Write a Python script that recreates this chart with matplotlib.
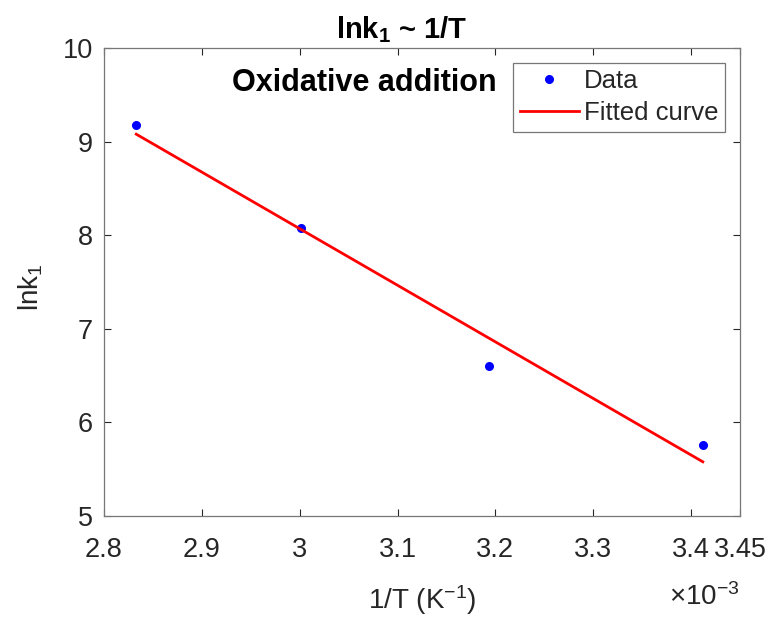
import matplotlib.pyplot as plt
import numpy as np

plt.rcParams['font.family'] = ['Liberation Sans', 'DejaVu Sans']
plt.rcParams['mathtext.fontset'] = 'custom'
plt.rcParams['mathtext.rm'] = 'Liberation Sans'
plt.rcParams['mathtext.bf'] = 'Liberation Sans:bold'
plt.rcParams['mathtext.default'] = 'regular'

# 1/T in units of 1e-3 K^-1, ln k1
inv_T = [2.833, 3.001, 3.194, 3.412]
lnk1 = [9.18, 8.08, 6.60, 5.76]
xticks = [2.8, 2.9, 3.0, 3.1, 3.2, 3.3, 3.4, 3.45]
xticklabels = ['2.8', '2.9', '3', '3.1', '3.2', '3.3', '3.4', '3.45']
yticks = [5, 6, 7, 8, 9, 10]

p = np.polyfit(inv_T, lnk1, 1)
xfit = np.linspace(inv_T[0], inv_T[-1], 50)
yfit = np.polyval(p, xfit)

txt = '#262626'
fig = plt.figure(figsize=(7.73, 6.18), dpi=100)
ax = fig.add_axes([0.1345, 0.165, 0.8228, 0.7573])

ax.plot(inv_T, lnk1, '.', color='blue', markersize=11, label='Data')
ax.plot(xfit, yfit, '-', color='red', lw=2, label='Fitted curve')

ax.set_xlim(2.8, 3.45)
ax.set_ylim(5, 10)
ax.set_xticks(xticks)
ax.set_xticklabels(xticklabels)
ax.set_yticks(yticks)
ax.tick_params(direction='in', top=True, right=True, labelsize=19.5,
               colors=txt, length=5, width=0.8)
ax.tick_params(axis='x', pad=15)
ax.tick_params(axis='y', pad=8)
for s in ax.spines.values():
    s.set_color('#777777')
    s.set_linewidth(0.9)

ax.set_xlabel('1/T (K$^{-1}$)', fontsize=20, color=txt, labelpad=15)
ax.set_ylabel('lnk$_1$', fontsize=20, color=txt)
ax.yaxis.set_label_coords(-0.092, 0.49)
fig.text(0.52, 0.9385, r'lnk$_\mathbf{1}$ ~ 1/T', fontsize=21,
         fontweight='bold', ha='center', va='baseline')
ax.text(3.0657, 9.626, 'Oxidative addition', fontsize=22, fontweight='bold',
        ha='center', va='center')
fig.text(740 / 773, 1 - 597 / 618, r'$\times$10$^{-3}$', fontsize=20,
         color=txt, ha='right', va='center')

leg = ax.legend(loc='upper right', bbox_to_anchor=(0.9764, 0.968),
                borderaxespad=0, fontsize=18.5, fancybox=False,
                edgecolor='#777777', framealpha=1, handlelength=2.3,
                handletextpad=0.2, borderpad=0.25, labelspacing=0.3)
leg.get_frame().set_linewidth(0.9)
for t in leg.get_texts():
    t.set_color(txt)

fig.savefig('out.png', dpi=100)
